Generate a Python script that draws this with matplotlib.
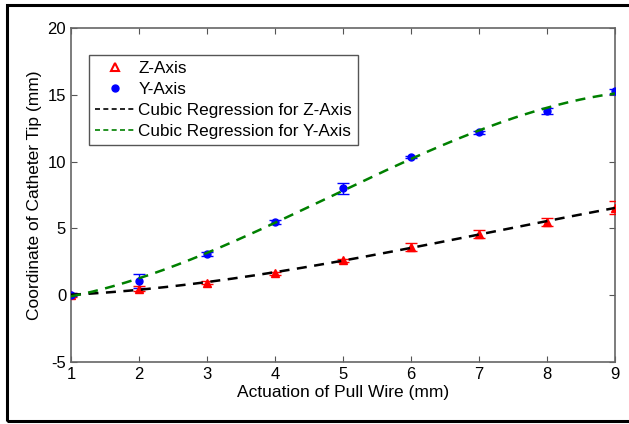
import numpy as np
import matplotlib
matplotlib.use('Agg')
import matplotlib.pyplot as plt
from matplotlib.patches import Rectangle

plt.rcParams['font.family'] = ['Liberation Sans', 'DejaVu Sans']
plt.rcParams['axes.unicode_minus'] = False

# actuation of pull wire (mm)
pull = np.array([1, 2, 3, 4, 5, 6, 7, 8, 9])
# measured tip coordinates (mm) and error
z_axis = np.array([0.0, 0.5, 0.95, 1.65, 2.6, 3.6, 4.55, 5.5, 6.55])
z_err = np.array([0.15, 0.2, 0.1, 0.12, 0.12, 0.3, 0.3, 0.3, 0.5])
y_axis = np.array([0.05, 1.05, 3.1, 5.45, 8.0, 10.35, 12.2, 13.8, 15.25])
y_err = np.array([0.1, 0.5, 0.15, 0.15, 0.4, 0.1, 0.1, 0.2, 0.2])

xx = np.linspace(1, 9, 200)
fit_z = np.polyval(np.polyfit(pull, z_axis, 3), xx)
fit_y = np.polyval(np.polyfit(pull, y_axis, 3), xx)

fig = plt.figure(figsize=(6.29, 4.24), dpi=100)
ax = fig.add_axes([71/629, 1 - 362/424, 544/629, 334/424])

ax.errorbar(pull, z_axis, yerr=z_err, fmt='^', color='red', mfc='red', ms=6,
            capsize=4, elinewidth=1, zorder=3)
ax.errorbar(pull, y_axis, yerr=y_err, fmt='o', color='blue', ms=5,
            capsize=4, elinewidth=1, zorder=3)
ax.plot(xx, fit_z, '--', color='black', lw=1.8, dashes=(4, 3), zorder=4)
ax.plot(xx, fit_y, '--', color='green', lw=1.8, dashes=(4, 3), zorder=4)

# legend handles
h1, = ax.plot([], [], '^', color='red', mfc='white', mew=1.5, ms=6)
h2, = ax.plot([], [], 'o', color='blue', ms=5)
h3, = ax.plot([], [], '--', color='black', lw=1.2, dashes=(3, 2))
h4, = ax.plot([], [], '--', color='green', lw=1.2, dashes=(3, 2))
leg = ax.legend([h1, h2, h3, h4],
                ['Z-Axis', 'Y-Axis', 'Cubic Regression for Z-Axis',
                 'Cubic Regression for Y-Axis'],
                loc='upper left', bbox_to_anchor=(0.033, 0.92), fontsize=12.3,
                fancybox=False, framealpha=1, edgecolor='#555555',
                handlelength=2.4, handletextpad=0.15, borderpad=0.35,
                labelspacing=0.35, borderaxespad=0)
leg.get_frame().set_linewidth(1.0)

ax.set_xlim(1, 9)
ax.set_ylim(-5, 20)
ax.set_xticks(range(1, 10))
ax.set_yticks([-5, 0, 5, 10, 15, 20])
ax.tick_params(direction='in', top=True, right=True, labelsize=12,
               color='#555555', length=4)
for s in ax.spines.values():
    s.set_color('#666666')
    s.set_linewidth(1.2)
ax.set_xlabel('Actuation of Pull Wire (mm)', fontsize=12.5, labelpad=2)
ax.set_ylabel('Coordinate of Catheter Tip (mm)', fontsize=12.5, labelpad=4)

# outer frame around figure
fig.patches.append(Rectangle((7/629, 3/424), 1.0, 416/424, transform=fig.transFigure,
                             fill=False, edgecolor='black', lw=2.2))

fig.savefig('out.png', dpi=100)
